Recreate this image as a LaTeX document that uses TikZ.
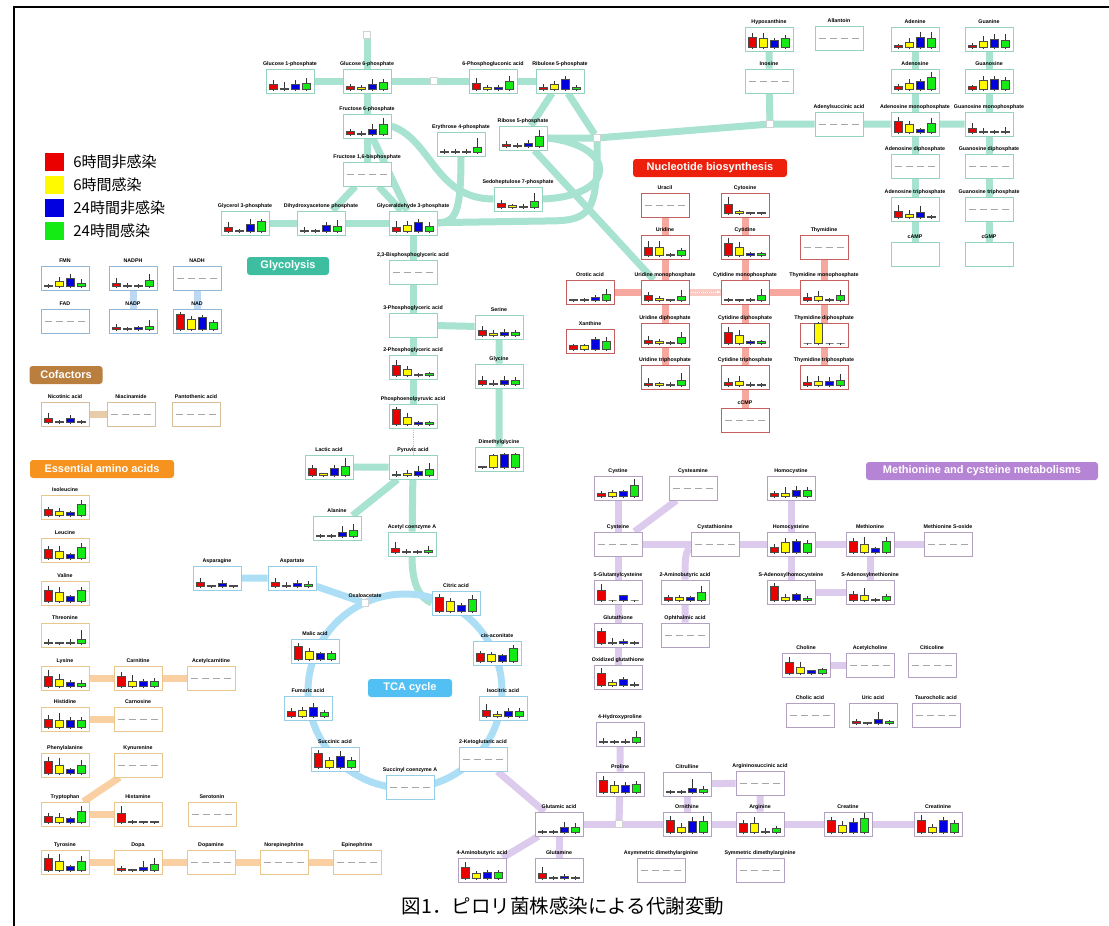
\documentclass[tikz,border=0pt]{standalone}
\usepackage{fontspec}
\setmainfont{Liberation Sans}
\newfontfamily\jpfont{Noto Sans CJK JP}
\usetikzlibrary{positioning,backgrounds,arrows.meta}

\definecolor{bar1}{RGB}{235,0,0}
\definecolor{bar2}{RGB}{255,250,0}
\definecolor{bar3}{RGB}{0,0,225}
\definecolor{bar4}{RGB}{20,235,20}
\definecolor{glycb}{RGB}{150,210,192}
\definecolor{glycl}{RGB}{168,226,208}
\definecolor{glyclab}{RGB}{62,190,160}
\definecolor{nucb}{RGB}{195,95,95}
\definecolor{nucl}{RGB}{246,168,158}
\definecolor{nuclab}{RGB}{236,32,12}
\definecolor{metb}{RGB}{178,162,192}
\definecolor{metl}{RGB}{221,203,238}
\definecolor{metlab}{RGB}{182,132,212}
\definecolor{tcab}{RGB}{150,205,232}
\definecolor{tcal}{RGB}{172,222,246}
\definecolor{tcalab}{RGB}{82,192,242}
\definecolor{cofb}{RGB}{215,188,152}
\definecolor{cofl}{RGB}{232,204,170}
\definecolor{coflab}{RGB}{186,126,62}
\definecolor{eaab}{RGB}{232,198,140}
\definecolor{eaal}{RGB}{250,208,162}
\definecolor{eaalab}{RGB}{246,146,30}
\definecolor{cofbb}{RGB}{145,182,216}
\definecolor{cofbl}{RGB}{188,216,242}

\tikzset{
  metbox/.style={rectangle, fill=white, line width=0.8pt, minimum width=48pt, minimum height=24pt, inner sep=0pt},
  metlabel/.style={inner sep=0pt, font=\fontsize{5.3}{6}\selectfont\bfseries},
  junc/.style={rectangle, fill=white, draw=gray!35, line width=0.6pt, minimum size=7pt, inner sep=0pt},
  seclabel/.style={rectangle, rounded corners=3pt, text=white, inner sep=0pt, minimum height=18pt, font=\fontsize{11}{12}\selectfont\bfseries},
  gband/.style={draw=glycl, line width=7pt},
  nband/.style={draw=nucl, line width=7pt},
  mband/.style={draw=metl, line width=7pt},
  tband/.style={draw=tcal, line width=7pt},
  eband/.style={draw=eaal, line width=7pt},
  cband/.style={draw=cofl, line width=7pt},
  bband/.style={draw=cofbl, line width=7pt}
}

\def\nodata{none}
\def\emptydata{empty}
% metabolite box: name, x, y, label, border colour, bars (height/whisker) or none/empty
\newcommand{\met}[6]{%
  \node[metbox, draw=#5] (#1) at (#2,#3) {};
  \node[metlabel] (#1l) at (#2,#3-17) {#4};
  \def\metdata{#6}%
  \ifx\metdata\nodata
    \foreach \i in {1,...,4}{
      \pgfmathsetmacro\bx{#2+(\i-2.5)*11}
      \draw[gray!70, line width=0.6pt] (\bx-3.5,#3) -- (\bx+3.5,#3);
    }
  \else\ifx\metdata\emptydata\else
    \foreach \h/\e [count=\i] in {#6}{
      \pgfmathsetmacro\bx{#2+(\i-2.5)*11}
      \draw[black!80, line width=0.4pt] (\bx,#3+10) -- (\bx,{#3+8-\h-\e});
      \draw[fill=bar\i, draw=black!70, line width=0.3pt] (\bx-4,#3+8) rectangle (\bx+4,{#3+8-\h});
    }
  \fi\fi
}

\begin{document}
\begin{tikzpicture}[x=1pt, y=-1pt]
\useasboundingbox (0,0) rectangle (1109,926);
\draw[line width=2.5pt] (14,926) -- (14,7) -- (1109,7);

% legend
\foreach \c/\t [count=\i] in {bar1/6時間非感染, bar2/6時間感染, bar3/24時間非感染, bar4/24時間感染}{
  \node[fill=\c, minimum width=19pt, minimum height=18pt, inner sep=0pt] (leg\i) at (54.5,139+23*\i) {};
  \node[right=9pt of leg\i, inner sep=0pt, font=\jpfont\fontsize{15}{15}\selectfont] (legt\i) {\t};
}

% junctions
\node[junc] (jtop) at (367,35) {};
\node[junc] (jg) at (434,81) {};
\node[junc] (jr) at (597,138) {};
\node[junc] (jino) at (770,124) {};
\node[junc] (oaa) at (365,603) {};
\node[metlabel, anchor=south] (oaal) at (365,598) {Oxaloacetate};
\node[junc] (jglu) at (619,824) {};
\coordinate (tcac) at (405,691);

% glycolysis and pentose phosphate
\met{g1p}{290}{81}{Glucose 1-phosphate}{glycb}{5/4,1/6,5/4,6/5}
\met{g6p}{367}{81}{Glucose 6-phosphate}{glycb}{3/2,2/2,5/5,7/3}
\met{pgn}{493}{81}{6-Phosphogluconic acid}{glycb}{6/5,2/2,2/2,8/5}
\met{ru5p}{560}{81}{Ribulose 5-phosphate}{glycb}{2/3,5/3,10/3,2/2}
\met{f6p}{367}{126}{Fructose 6-phosphate}{glycb}{3/2,1/2,5/5,10/6}
\met{e4p}{461}{144}{Erythrose 4-phosphate}{glycb}{1/2,1/2,1/2,5/9}
\met{r5p}{523}{138}{Ribose 5-phosphate}{glycb}{2/3,1/2,3/3,10/6}
\met{fbp}{367}{174}{Fructose 1,6-bisphosphate}{glycb}{none}
\met{s7p}{518}{199}{Sedoheptulose 7-phosphate}{glycb}{4/3,2/1,1/2,6/8}
\met{gol3p}{245}{223}{Glycerol 3-phosphate}{glycb}{4/5,1/1,7/5,10/2}
\met{dhap}{321}{223}{Dihydroxyacetone phosphate}{glycb}{1/3,1/1,6/3,5/6}
\met{g3p}{413}{223}{Glyceraldehyde 3-phosphate}{glycb}{4/6,6/4,9/3,5/4}
\met{bpg}{413}{272}{2,3-Bisphosphoglyceric acid}{glycb}{none}
\met{pg3}{413}{325}{3-Phosphoglyceric acid}{glycb}{empty}
\met{pg2}{413}{367}{2-Phosphoglyceric acid}{glycb}{10/5,6/3,1/1,2/1}
\met{pep}{413}{416}{Phosphoenolpyruvic acid}{glycb}{15/2,7/4,2/1,2/1}
\met{pyr}{413}{467}{Pyruvic acid}{glycb}{1/3,2/3,4/5,6/6}
\met{lac}{329}{467}{Lactic acid}{glycb}{7/3,2/0,7/3,9/8}
\met{ala}{337}{528}{Alanine}{glycb}{1/1,1/1,4/6,6/6}
\met{acoa}{412}{544}{Acetyl coenzyme A}{glycb}{4/6,1/2,1/1,2/4}
\met{ser}{499}{327}{Serine}{glycb}{5/4,2/3,3/3,3/2}
\met{gly}{499}{376}{Glycine}{glycb}{4/4,1/3,4/4,4/3}
\met{dmg}{499}{459}{Dimethylglycine}{glycb}{1/0,12/1,13/1,13/1}

% purines
\met{hyp}{769}{39}{Hypoxanthine}{glycb}{10/4,9/5,7/2,9/3}
\met{alla}{839}{38}{Allantoin}{glycb}{none}
\met{ade}{915}{39}{Adenine}{glycb}{2/1,5/4,10/5,9/6}
\met{gua}{989}{39}{Guanine}{glycb}{2/2,6/5,8/5,7/6}
\met{ino}{769}{81}{Inosine}{glycb}{none}
\met{ado}{915}{81}{Adenosine}{glycb}{3/2,6/4,8/2,12/5}
\met{guo}{989}{81}{Guanosine}{glycb}{3/1,9/4,10/3,9/3}
\met{adsa}{839}{124}{Adenylsuccinic acid}{glycb}{none}
\met{amp}{915}{124}{Adenosine monophosphate}{glycb}{11/4,8/3,3/1,9/5}
\met{gmp}{989}{124}{Guanosine monophosphate}{glycb}{4/5,1/3,1/1,1/4}
\met{adp}{915}{166}{Adenosine diphosphate}{glycb}{none}
\met{gdp}{989}{166}{Guanosine diphosphate}{glycb}{none}
\met{atp}{915}{209}{Adenosine triphosphate}{glycb}{6/6,3/4,5/6,1/1}
\met{gtp}{989}{209}{Guanosine triphosphate}{glycb}{none}
\met{camp}{915}{254}{cAMP}{glycb}{empty}
\met{cgmp}{989}{254}{cGMP}{glycb}{empty}

% FMN / NAD
\met{fmn}{65}{278}{FMN}{cofbb}{1/1,5/4,8/4,3/4}
\met{nadph}{133}{278}{NADPH}{cofbb}{3/5,1/2,1/1,6/6}
\met{nadh}{197}{278}{NADH}{cofbb}{none}
\met{fad}{65}{321}{FAD}{cofbb}{none}
\met{nadp}{133}{321}{NADP}{cofbb}{2/3,1/1,2/1,3/6}
\met{nad}{197}{321}{NAD}{cofbb}{15/2,10/3,12/2,7/2}

% nucleotides
\met{ura}{665}{205}{Uracil}{nucb}{none}
\met{cyt}{745}{205}{Cytosine}{nucb}{9/7,2/1,1/0,1/0}
\met{urd}{665}{247}{Uridine}{nucb}{8/6,8/6,1/1,5/2}
\met{cyd}{745}{247}{Cytidine}{nucb}{12/5,8/5,2/1,2/1}
\met{thd}{824}{247}{Thymidine}{nucb}{none}
\met{oro}{590}{292}{Orotic acid}{nucb}{1/0,1/1,3/2,6/5}
\met{ump}{665}{292}{Uridine monophosphate}{nucb}{5/3,2/2,1/0,4/6}
\met{cmp}{745}{292}{Cytidine monophosphate}{nucb}{1/1,1/0,1/1,5/6}
\met{tmp}{824}{292}{Thymidine monophosphate}{nucb}{3/4,4/5,1/1,5/5}
\met{xan}{590}{341}{Xanthine}{nucb}{4/1,4/1,10/2,8/4}
\met{udp}{665}{335}{Uridine diphosphate}{nucb}{3/4,2/2,1/1,6/5}
\met{cdp}{745}{335}{Cytidine diphosphate}{nucb}{11/5,8/5,2/1,2/1}
\met{tdp}{824}{335}{Thymidine diphosphate}{nucb}{0/0,20/1,0/0,0/0}
\met{utp}{665}{377}{Uridine triphosphate}{nucb}{2/5,2/1,1/2,5/7}
\met{ctp}{745}{377}{Cytidine triphosphate}{nucb}{3/4,4/5,1/2,1/1}
\met{ttp}{824}{377}{Thymidine triphosphate}{nucb}{3/6,4/5,4/4,5/6}
\met{ccmp}{745}{420}{cCMP}{nucb}{none}

% cofactors
\met{nic}{65}{414}{Nicotinic acid}{cofb}{4/5,1/1,4/3,1/1}
\met{nam}{131}{414}{Niacinamide}{cofb}{none}
\met{pan}{196}{414}{Pantothenic acid}{cofb}{none}

% essential amino acids
\met{ile}{65}{507}{Isoleucine}{eaab}{6/2,4/3,3/1,11/4}
\met{leu}{65}{550}{Leucine}{eaab}{9/3,7/5,4/1,11/4}
\met{val}{65}{593}{Valine}{eaab}{11/4,9/5,5/1,11/3}
\met{thr}{65}{635}{Threonine}{eaab}{1/3,1/0,1/3,4/9}
\met{lys}{65}{678}{Lysine}{eaab}{10/6,7/5,4/2,3/3}
\met{car}{138}{678}{Carnitine}{eaab}{10/4,5/6,5/2,5/3}
\met{acar}{211}{678}{Acetylcarnitine}{eaab}{none}
\met{his}{65}{719}{Histidine}{eaab}{8/4,7/7,7/3,7/3}
\met{cno}{138}{719}{Carnosine}{eaab}{none}
\met{phe}{65}{765}{Phenylalanine}{eaab}{12/4,8/7,4/1,8/5}
\met{kyn}{138}{765}{Kynurenine}{eaab}{none}
\met{trp}{65}{814}{Tryptophan}{eaab}{6/3,5/4,4/1,11/5}
\met{hsm}{138}{814}{Histamine}{eaab}{9/7,1/1,1/0,1/0}
\met{srt}{212}{814}{Serotonin}{eaab}{none}
\met{tyr}{65}{862}{Tyrosine}{eaab}{12/4,9/7,4/1,9/5}
\met{dopa}{138}{862}{Dopa}{eaab}{2/2,1/0,3/6,6/6}
\met{dpm}{211}{862}{Dopamine}{eaab}{none}
\met{nep}{284}{862}{Norepinephrine}{eaab}{none}
\met{epi}{357}{862}{Epinephrine}{eaab}{none}

% TCA cycle
\met{asn}{217}{578}{Asparagine}{tcab}{4/4,1/0,3/3,1/0}
\met{asp}{292}{578}{Aspartate}{tcab}{4/4,1/3,3/3,2/3}
\met{cit}{456}{603}{Citric acid}{tcab}{14/3,10/3,6/2,12/4}
\met{mal}{315}{651}{Malic acid}{tcab}{13/3,8/3,6/1,6/2}
\met{aco}{497}{653}{cis-aconitate}{tcab}{8/2,7/2,6/1,13/3}
\met{fum}{308}{708}{Fumaric acid}{tcab}{5/3,6/3,9/4,4/2}
\met{ici}{503}{708}{Isocitric acid}{tcab}{6/6,2/3,5/3,5/3}
\met{suc}{335}{759}{Succinic acid}{tcab}{14/3,7/3,11/5,7/3}
\met{akg}{483}{759}{2-Ketoglutaric acid}{tcab}{none}
\met{sca}{410}{787}{Succinyl coenzyme A}{tcab}{none}

% methionine, cysteine, urea cycle
\met{cyss}{618}{488}{Cystine}{metb}{3/2,4/2,5/1,11/6}
\met{csa}{693}{488}{Cysteamine}{metb}{none}
\met{hcys}{791}{488}{Homocystine}{metb}{3/2,3/6,6/4,6/3}
\met{cys}{618}{544}{Cysteine}{metb}{none}
\met{cth}{715}{544}{Cystathionine}{metb}{none}
\met{hcy}{791}{544}{Homocysteine}{metb}{5/3,10/4,11/2,9/3}
\met{met}{870}{544}{Methionine}{metb}{11/3,8/7,4/1,11/4}
\met{mso}{948}{544}{Methionine S-oxide}{metb}{none}
\met{gglu}{618}{592}{5-Glutamylcysteine}{metb}{10/6,0/0,5/0,0/0}
\met{abu}{685}{592}{2-Aminobutyric acid}{metb}{3/2,3/2,3/1,8/6}
\met{sah}{791}{592}{S-Adenosylhomocysteine}{metb}{14/3,3/3,6/1,2/2}
\met{sam}{870}{592}{S-Adenosylmethionine}{metb}{6/3,5/7,1/1,4/2}
\met{gsh}{618}{635}{Glutathione}{metb}{12/3,1/4,2/2,1/1}
\met{oph}{685}{635}{Ophthalmic acid}{metb}{none}
\met{gssg}{618}{677}{Oxidized glutathione}{metb}{12/5,3/2,6/2,1/2}
\met{cho}{806}{665}{Choline}{metb}{11/5,6/5,3/0,4/1}
\met{ach}{870}{665}{Acetylcholine}{metb}{none}
\met{cdpc}{932}{665}{Citicoline}{metb}{none}
\met{cha}{810}{715}{Cholic acid}{metb}{none}
\met{uric}{873}{715}{Uric acid}{metb}{2/2,1/0,4/7,2/1}
\met{tch}{936}{715}{Taurocholic acid}{metb}{none}
\met{hyp4}{620}{734}{4-Hydroxyproline}{metb}{1/3,1/1,1/2,5/6}
\met{pro}{620}{784}{Proline}{metb}{12/4,7/4,7/3,8/3}
\met{citr}{687}{784}{Citrulline}{metb}{1/1,1/1,4/9,3/3}
\met{asa}{760}{783}{Argininosuccinic acid}{metb}{none}
\met{glu}{559}{824}{Glutamic acid}{metb}{1/1,1/1,5/5,5/4}
\met{orn}{687}{824}{Ornithine}{metb}{12/4,5/4,11/4,11/5}
\met{arg}{760}{824}{Arginine}{metb}{9/3,9/6,1/3,4/2}
\met{crt}{848}{824}{Creatine}{metb}{12/3,7/4,10/4,14/5}
\met{crn}{938}{824}{Creatinine}{metb}{12/5,5/3,12/3,9/3}
\met{gaba}{482}{870}{4-Aminobutyric acid}{metb}{11/5,5/2,6/2,6/2}
\met{gln}{559}{870}{Glutamine}{metb}{5/6,1/1,2/2,1/1}
\met{adma}{661}{870}{Asymmetric dimethylarginine}{metb}{none}
\met{sdma}{760}{870}{Symmetric dimethylarginine}{metb}{none}

% section titles
\node[seclabel, fill=glyclab, minimum width=82pt] (glylab) at (288,266) {Glycolysis};
\node[seclabel, fill=nuclab, minimum width=154pt] (nuclab) at (710,168) {Nucleotide biosynthesis};
\node[seclabel, fill=metlab, minimum width=232pt] (metlab) at (982,471) {Methionine and cysteine metabolisms};
\node[seclabel, fill=tcalab, minimum width=84pt] (tcalab) at (410,688) {TCA cycle};
\node[seclabel, fill=coflab, minimum width=73pt] (coflab) at (66,375) {Cofactors};
\node[seclabel, fill=eaalab, minimum width=144pt] (eaalab) at (102,469) {Essential amino acids};

% caption
\node[font=\jpfont\fontsize{19.5}{20}\selectfont, inner sep=0pt] (cap) at (563,906) {図1．ピロリ菌株感染による代謝変動};

\begin{pgfonlayer}{background}
% glycolysis
\draw[gband] (jtop) -- (g6p) -- (f6p) -- (fbp);
\draw[gband] (g1p) -- (g6p) -- (jg) -- (pgn) -- (ru5p);
\draw[gband] (ru5p) -- (r5p);
\draw[gband] (ru5p) -- (jr) .. controls (598,215) and (590,221) .. (545,221) -- (g3p);
\draw[gband] (r5p) -- (jr) -- (jino) -- (adsa) -- (amp) -- (gmp);
\draw[gband] (r5p) -- (ump);
\draw[gband] (r5p.east) .. controls (618,146) and (618,196) .. (s7p.east);
\draw[gband] (f6p.east) .. controls (432,140) and (435,199) .. (s7p.west);
\draw[gband] (e4p) .. controls (461,215) and (455,222) .. (g3p.east);
\draw[gband] (f6p) -- (g3p);
\draw[gband] (fbp) -- (dhap);
\draw[gband] (fbp) -- (g3p);
\draw[gband] (gol3p) -- (dhap) -- (g3p) -- (bpg) -- (pg3) -- (pg2) -- (pep);
\draw[glycb, densely dotted, line width=0.8pt] (pep) -- (pyr);
\draw[gband] (pyr) -- (acoa) .. controls (412,585) and (420,598) .. (cit.west);
\draw[gband] (pg3) -- (ser) -- (gly) -- (dmg);
\draw[gband] (lac) -- (pyr) -- (ala);
\draw[gband] (hyp) -- (ino) -- (jino);
\draw[gband] (ade) -- (ado) -- (amp) -- (adp) -- (atp) -- (camp);
\draw[gband] (gua) -- (guo) -- (gmp) -- (gdp) -- (gtp) -- (cgmp);
% nucleotides
\draw[nband] (ura) -- (urd) -- (ump) -- (udp) -- (utp);
\draw[nband] (cyt) -- (cyd) -- (cmp) -- (cdp) -- (ctp) -- (ccmp);
\draw[nband] (thd) -- (tmp) -- (tdp) -- (ttp);
\draw[nband] (oro) -- (ump);
\draw[nband] (cmp) -- (tmp);
\draw[nband, draw=nucl!60] (ump) -- (cmp);
\draw[white, densely dotted, line width=1pt, -{Stealth[length=4pt]}] (ump.east) -- (cmp.west);
% TCA
\draw[tband] (tcac) circle (97);
\draw[tband] (asn) -- (asp) -- (oaa);
% methionine and urea cycle
\draw[mband] (cyss) -- (cys) -- (gglu) -- (gsh) -- (gssg);
\draw[mband] (csa) -- (cys);
\draw[mband] (cys) -- (cth) -- (hcy) -- (met) -- (mso);
\draw[mband] (hcys) -- (hcy) -- (sah) -- (sam) -- (met);
\draw[mband] (cth) .. controls (685,550) and (685,560) .. (abu) -- (oph);
\draw[mband] (cho) -- (ach);
\draw[mband] (akg) -- (glu);
\draw[mband] (glu) -- (jglu) -- (orn) -- (arg) -- (crt) -- (crn);
\draw[mband] (jglu) -- (pro) -- (hyp4);
\draw[mband] (citr) -- (orn);
\draw[mband] (citr) -- (asa) -- (arg);
\draw[mband] (glu) -- (gaba);
\draw[mband] (glu) -- (gln);
% essential amino acids
\draw[eband] (lys) -- (car) -- (acar);
\draw[eband] (his) -- (cno);
\draw[eband] (trp) -- (kyn);
\draw[eband] (trp) -- (hsm);
\draw[eband] (tyr) -- (dopa) -- (dpm) -- (nep) -- (epi);
% cofactors
\draw[cband] (nic) -- (nam);
\draw[bband] (nadph) -- (nadp);
\draw[bband] (nadh) -- (nad);
\end{pgfonlayer}
\end{tikzpicture}
\end{document}
